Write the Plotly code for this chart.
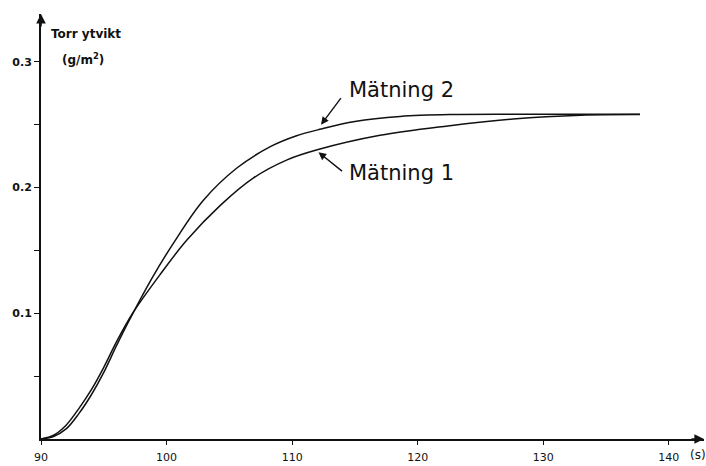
import plotly.graph_objects as go

# Measurement series: time (s) and dry basis weight (g/m2)
t_matning1 = [90.0, 91.0, 92.0, 93.0, 94.0, 95.0, 96.0, 97.3, 99.5, 101.6,
              104.3, 106.9, 109.6, 112.0, 117.0, 122.4, 127.6, 133.0, 137.7]
y_matning1 = [0.000, 0.003, 0.011, 0.024, 0.039, 0.057, 0.077, 0.100, 0.131, 0.158,
              0.186, 0.2075, 0.222, 0.230, 0.2415, 0.249, 0.2545, 0.2575, 0.258]

t_matning2 = [90.0, 91.0, 92.0, 93.0, 94.0, 95.0, 96.0, 96.9, 98.9, 100.5,
              102.9, 105.6, 108.3, 110.3, 112.3, 115.0, 118.6, 122.6, 130.0, 137.7]
y_matning2 = [0.000, 0.002, 0.008, 0.020, 0.035, 0.053, 0.074, 0.092, 0.129, 0.155,
              0.1895, 0.2155, 0.2327, 0.241, 0.2465, 0.2525, 0.2565, 0.258, 0.2582, 0.2582]

x_ticks = [90, 100, 110, 120, 130, 140]
x_tick_labels = ["90", "100", "110", "120", "130", "140"]
y_ticks = [0.05, 0.10, 0.15, 0.20, 0.25, 0.30]
y_tick_labels = ["", "0.1", "", "0.2", "", "0.3"]

FONT = "DejaVu Sans"
INK = "#111111"

fig = go.Figure()
for t, y, name in [(t_matning1, y_matning1, "Mätning 1"),
                   (t_matning2, y_matning2, "Mätning 2")]:
    fig.add_trace(go.Scatter(
        x=t, y=y, name=name, mode="lines",
        line=dict(color=INK, width=1.5, shape="spline", smoothing=1.0),
        showlegend=False, hoverinfo="skip",
    ))

fig.update_layout(
    width=706, height=466,
    margin=dict(l=41, r=2, t=14, b=22),
    paper_bgcolor="white", plot_bgcolor="white",
    font=dict(family=FONT, color=INK, size=11),
)
fig.update_xaxes(
    range=[90, 142.8], showgrid=False, zeroline=False,
    showline=True, linecolor=INK, linewidth=2,
    tickmode="array", tickvals=x_ticks, ticktext=x_tick_labels,
    ticks="outside", ticklen=4, tickwidth=1.2, tickcolor=INK,
    ticklabelstandoff=3,
    tickfont=dict(family=FONT, size=11, color=INK),
)
fig.update_yaxes(
    range=[0, 0.338], showgrid=False, zeroline=False,
    showline=True, linecolor=INK, linewidth=2,
    tickmode="array", tickvals=y_ticks, ticktext=y_tick_labels,
    ticks="outside", ticklen=5, tickwidth=1.2, tickcolor=INK,
    tickfont=dict(family=FONT, size=11, color=INK, weight="bold"),
)

annotations = [
    # axis arrowheads
    dict(xref="paper", yref="paper", x=1.0, y=0.0, ax=-14, ay=0, text="",
         showarrow=True, arrowhead=2, arrowsize=1.2, arrowwidth=1.6, arrowcolor=INK),
    dict(xref="paper", yref="paper", x=0.0, y=1.0, ax=0, ay=14, text="",
         showarrow=True, arrowhead=2, arrowsize=1.2, arrowwidth=1.6, arrowcolor=INK),
    # axis titles
    dict(xref="paper", yref="paper", x=0.012, y=0.953, xanchor="left", yanchor="middle",
         text="<b>Torr ytvikt</b>", showarrow=False, font=dict(family=FONT, size=12, color=INK)),
    dict(xref="paper", yref="paper", x=0.029, y=0.895, xanchor="left", yanchor="middle",
         text="<b>(g/m<sup>2</sup>)</b>", showarrow=False, font=dict(family=FONT, size=12, color=INK)),
    dict(xref="x", yref="paper", x=142.3, y=0.0, xanchor="center", yanchor="top", yshift=-7,
         text="(s)", showarrow=False, font=dict(family=FONT, size=12, color=INK)),
    # series labels
    dict(xref="x", yref="y", x=118.7, y=0.2775, xanchor="center", yanchor="middle",
         text="Mätning 2", showarrow=False, font=dict(family=FONT, size=21, color=INK)),
    dict(xref="x", yref="y", x=118.7, y=0.2115, xanchor="center", yanchor="middle",
         text="Mätning 1", showarrow=False, font=dict(family=FONT, size=21, color=INK)),
    # pointer arrows to each curve
    dict(xref="x", yref="y", x=112.3, y=0.250, ax=21, ay=-28, text="",
         showarrow=True, arrowhead=2, arrowsize=1.1, arrowwidth=1.4, arrowcolor=INK),
    dict(xref="x", yref="y", x=112.1, y=0.228, ax=25, ay=20, text="",
         showarrow=True, arrowhead=2, arrowsize=1.1, arrowwidth=1.4, arrowcolor=INK),
]
fig.update_layout(annotations=annotations)

fig.write_html("out.html")
